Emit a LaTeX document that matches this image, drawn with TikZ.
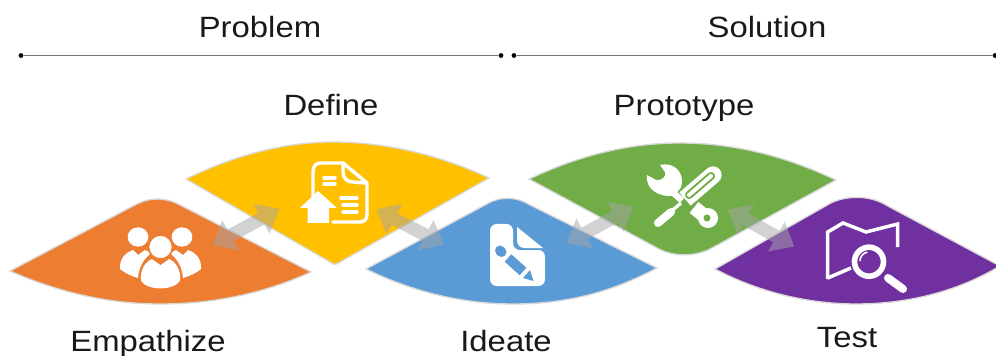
\documentclass[tikz,border=0pt]{standalone}
\usepackage{fontspec}
\setmainfont{Liberation Sans}
\usetikzlibrary{shapes.arrows,shapes.geometric}
\definecolor{orangefill}{HTML}{ED7D31}
\definecolor{yellowfill}{HTML}{FFC000}
\definecolor{bluefill}{HTML}{5B9BD5}
\definecolor{greenfill}{HTML}{70AD47}
\definecolor{purplefill}{HTML}{7030A0}
\tikzset{every picture/.style={line width=0.75pt},
  petal/.style={draw=black!15,line width=1pt},
  labeltext/.style={font=\fontsize{22}{26}\selectfont,xscale=1.12,text=black!90,inner sep=0pt,anchor=base},
  enddot/.style={circle,fill=black,inner sep=0pt,minimum size=3.6pt},
  spanline/.style={draw=black!55,line width=1.2pt},
  twoway/.style={double arrow,fill=black!35,fill opacity=.5,inner xsep=0pt,inner ysep=4.5pt,minimum height=57pt,double arrow head extend=8pt,double arrow tip angle=80,double arrow head indent=0pt},
  iconline/.style={draw=white,line width=2.6pt,line cap=round,line join=round},
  iconfill/.style={fill=white}}

\begin{document}
\begin{tikzpicture}[x=0.75pt,y=0.75pt,yscale=-1,xscale=1]
\useasboundingbox (0,0) rectangle (996,356);

%Shape: Orange petal
\draw[petal,fill=orangefill] (10,271) -- (135,205) .. controls (150,197) and (165,197) .. (180,205) -- (311,272) .. controls (265,293) and (215,304) .. (160,304) .. controls (110,304) and (60,293) .. (10,271) -- cycle ;
%Shape: Yellow petal
\draw[petal,fill=yellowfill] (186,179) .. controls (235,155) and (285,142) .. (333,142) .. controls (385,142) and (440,155) .. (489,178) -- (340,262) .. controls (336,265) and (334,265) .. (330,262) -- cycle ;
%Shape: Blue petal
\draw[petal,fill=bluefill] (366,269) -- (485,205) .. controls (500,196) and (515,196) .. (530,205) -- (657,268) .. controls (610,293) and (565,304) .. (513,304) .. controls (465,304) and (415,293) .. (366,269) -- cycle ;
%Shape: Green petal
\draw[petal,fill=greenfill] (529,179) .. controls (580,155) and (630,143) .. (679,143) .. controls (735,143) and (785,156) .. (836,180) -- (712,248) .. controls (695,257) and (675,257) .. (659,249) -- cycle ;
%Shape: Purple petal
\draw[petal,fill=purplefill] (715,269) -- (829,204) .. controls (845,195) and (870,195) .. (886,205) -- (1000,266) .. controls (955,293) and (905,304) .. (856,304) .. controls (810,304) and (760,293) .. (715,269) -- cycle ;

%Icon: people
\fill[iconfill] (120,267) .. controls (120,258) and (126,252) .. (133,250) -- (138,255) -- (145,250) -- (151,253) .. controls (144,259) and (139,266) .. (138,278) .. controls (131,276) and (125,273) .. (120,269) -- cycle ;
\fill[iconfill] (201,267) .. controls (201,258) and (195,252) .. (188,250) -- (183,255) -- (176,250) -- (170,253) .. controls (177,259) and (182,266) .. (183,278) .. controls (190,276) and (196,273) .. (201,269) -- cycle ;
\node[ellipse,fill=white,minimum width=15.5pt,minimum height=14.5pt,inner sep=0pt] (headleft) at (138,237) {};
\node[ellipse,fill=white,minimum width=15.5pt,minimum height=14.5pt,inner sep=0pt] (headright) at (182,237) {};
\node[circle,fill=white,draw=orangefill,line width=1.2pt,minimum size=18pt,inner sep=0pt] (headmid) at (160.5,247) {};
\draw[fill=white,draw=orangefill,line width=1.2pt] (140,281) .. controls (139,270) and (144,261) .. (152,258) -- (160.5,264) -- (169,258) .. controls (177,261) and (182,270) .. (181,281) .. controls (175,292) and (146,292) .. (140,281) -- cycle ;

%Icon: document with arrow
\draw[iconline] (313,206) -- (313,172) .. controls (313,166) and (316,163) .. (321,163) -- (343,163) -- (367,183) -- (367,214) .. controls (367,220) and (364,222) .. (359,222) -- (333,222) ;
\draw[iconline] (343,165) -- (343,172) .. controls (343,178) and (347,182) .. (353,182) -- (365,183) ;
\draw[iconline] (324,178) -- (335,178) (324,184) -- (335,184) (341,198) -- (357,198) (343,205) -- (357,205) (343,212) -- (357,212) ;
\fill[iconfill] (318,191) -- (337,208) -- (329,208) -- (329,223) -- (307.5,223) -- (307.5,208) -- (300,208) -- cycle ;

%Icon: file with pencil
\fill[iconfill,rounded corners=5pt] (490,224) -- (513,224) -- (513,250) -- (545,250) -- (545,286) -- (490,286) -- cycle ;
\fill[iconfill] (517,227) -- (543,248) -- (525,248) .. controls (520,248) and (517,245) .. (517,240) -- cycle ;
\draw[bluefill,line width=7.5pt] (508,258) -- (523,271.5) ;
\draw[bluefill,line width=7.5pt,line cap=round] (500,250.5) -- (501.5,252) ;
\fill[bluefill] (523,278) -- (530,270) -- (533.5,281) -- cycle ;

%Icon: wrench and screwdriver
\fill[iconfill] (660,165) .. controls (672,162) and (682,170) .. (682,181) .. controls (682,186) and (680,190) .. (677,192) -- (684,198) -- (680,203) -- (672,196) .. controls (660,197) and (645,190) .. (647,175) -- (656,180) .. controls (662,181) and (667,176) .. (665,172) -- cycle ;
\draw[white,line width=10.5pt] (694,207.5) -- (707,218) ;
\fill[white] (708,218) circle (10);
\fill[greenfill] (707,218) circle (3.5);
\draw[white,line width=13pt,line cap=round] (713,175) -- (692,193) ;
\draw[white,line width=13pt] (692,193) -- (685,199) ;
\draw[greenfill,line width=6pt,line cap=round] (711,176) -- (689,195) ;
\draw[white,line width=3pt,line cap=round] (711,176) -- (689,195) ;
\draw[white,line width=2.5pt] (681,203) -- (668,214) ;
\draw[white,line width=6pt,line cap=round] (671,212) -- (658,223) ;

%Icon: map with magnifier
\draw[iconline,line cap=butt,line join=miter] (827.7,279) -- (827.7,232) -- (843,223) -- (866,232) -- (897.7,224) -- (897.7,247) ;
\draw[iconline,line cap=butt,line join=miter] (827.7,278) -- (851,268) ;
\draw[white,line width=4.2pt] (869,261.7) circle (14.5);
\draw[white,line width=6pt,line cap=round] (888,278) -- (903,289) ;
\draw[white,line width=1.2pt] (860,261) arc (180:260:9) ;

%Arrows between petals
\node[twoway,rotate=28.5] (empdef) at (246,227) {};
\node[twoway,rotate=-27.5] (defide) at (410,227) {};
\node[twoway,rotate=28.5] (idepro) at (600,225) {};
\node[twoway,rotate=-29] (protes) at (761,228) {};

%Span lines
\node[enddot] (probleft) at (21,55.5) {};
\node[enddot] (probright) at (501,55.5) {};
\node[enddot] (solleft) at (514,55.5) {};
\node[enddot] (solright) at (995,55.5) {};
\draw[spanline] (probleft) -- (probright) ;
\draw[spanline] (solleft) -- (solright) ;

% Text Node
\node[labeltext] (problem) at (260,38) {Problem};
\node[labeltext] (solution) at (767,38) {Solution};
\node[labeltext] (define) at (331,116) {Define};
\node[labeltext] (prototype) at (684,116) {Prototype};
\node[labeltext] (empathize) at (148,351) {Empathize};
\node[labeltext] (ideate) at (506,351) {Ideate};
\node[labeltext] (test) at (847,347) {Test};

\end{tikzpicture}
\end{document}
